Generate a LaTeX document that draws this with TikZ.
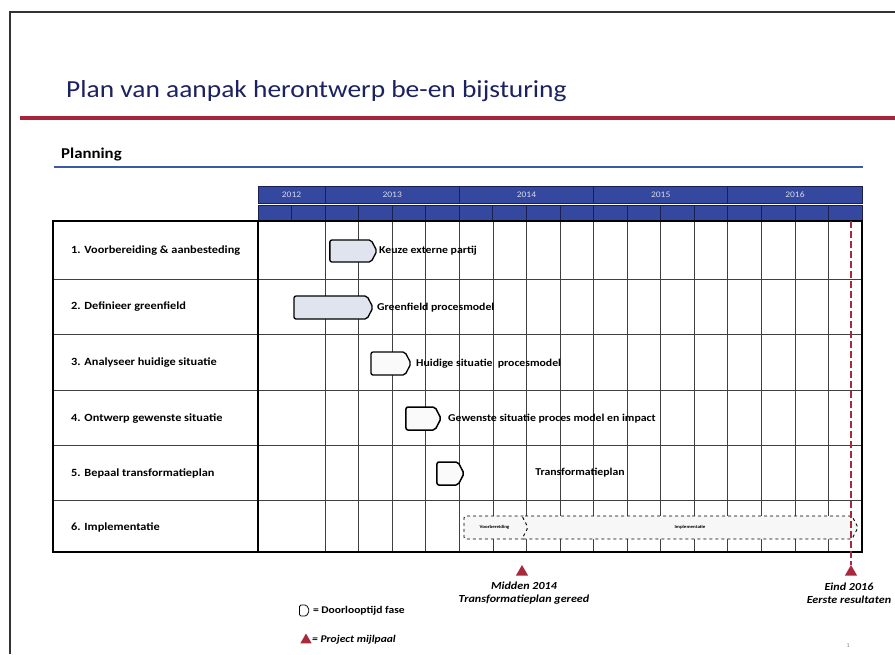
\documentclass[tikz,border=0pt]{standalone}
\usepackage{fontspec}
\setmainfont{Carlito}[FakeStretch=1.12]
\usetikzlibrary{shapes.symbols,shapes.geometric,positioning}

\definecolor{titleblue}{HTML}{1C2160}
\definecolor{slidered}{HTML}{A8243A}
\definecolor{lineblue}{HTML}{3C5AA8}
\definecolor{headblue}{HTML}{3548A0}
\definecolor{headedge}{HTML}{1B1F50}
\definecolor{phasefill}{HTML}{DFE4EE}
\definecolor{milered}{HTML}{A8283C}

\tikzset{
  gridline/.style={black!75, line width=0.7pt},
  tableline/.style={black, line width=1.1pt},
  yearcell/.style={draw=headedge, fill=headblue, line width=0.9pt, minimum height=17pt, inner sep=0pt,
    text=white!80!headblue, font=\fontsize{8.5}{9}\selectfont},
  monthcell/.style={draw=headedge, fill=headblue, line width=0.9pt, minimum width=33.56pt,
    minimum height=15pt, inner sep=0pt},
  rowlabel/.style={anchor=west, inner sep=0pt, font=\fontsize{11}{13}\selectfont\bfseries},
  phase/.style={shape=signal, signal to=east, signal pointer angle=125, draw=black, line width=1.3pt,
    rounded corners=2pt, inner sep=0pt, minimum height=23pt},
  phaselabel/.style={anchor=west, inner sep=0pt, font=\fontsize{10.5}{12}\selectfont\bfseries},
  implphase/.style={phase, dashed, line width=0.9pt, fill=black!3, font=\fontsize{4.5}{5}\selectfont\bfseries},
  milestone/.style={regular polygon, regular polygon sides=3, fill=milered, minimum size=14pt, inner sep=0pt},
  miletext/.style={align=center, inner sep=0pt, font=\fontsize{10.8}{13.5}\selectfont\bfseries\itshape},
  legendtext/.style={inner sep=0pt, font=\fontsize{10.3}{12}\selectfont\bfseries},
}

\begin{document}
\begin{tikzpicture}[x=1pt, y=-1pt]
        \useasboundingbox (0,0) rectangle (895,654);
        %% slide frame and title
        \draw[line width=1.2pt, black!80] (10,654) -- (10,12) -- (900,12);
        \node[anchor=base west, inner sep=0pt, text=titleblue, font=\fontsize{24.5}{28}\selectfont] (title) at (66,97)
            {Plan van aanpak herontwerp be-en bijsturing};
        \draw[slidered, line width=3.5pt] (20,118) -- (895,118);
        \node[anchor=base west, inner sep=0pt, font=\fontsize{15}{17}\selectfont\bfseries] (planning) at (61,158) {Planning};
        \draw[lineblue, line width=2pt] (54,167) -- (863,167);

        %% header with years and quarters
        \foreach \yr/\a/\n in {2012/0/2,2013/2/4,2014/6/4,2015/10/4,2016/14/4}
            \node[yearcell, minimum width=\n*33.56pt] (y\yr) at ({258+33.56*(\a+\n/2)},194.5) {\yr};
        \foreach \i in {0,...,17}
            \node[monthcell] (q\i) at ({258+33.56*(\i+0.5)},212.5) {};

        %% table grid
        \foreach \i in {2,...,17}
            \draw[gridline] ({258+33.56*\i},221) -- ({258+33.56*\i},552);
        \foreach \yy in {279,334,390,445,500}
            \draw[gridline] (53,\yy) -- (862,\yy);
        \draw[tableline] (53,221) rectangle (862,552);
        \draw[tableline] (258,221) -- (258,552);

        %% activities
        \node[rowlabel] (r1) at (71,251) {1. Voorbereiding \& aanbesteding};
        \node[rowlabel] (r2) at (71,307) {2. Definieer greenfield};
        \node[rowlabel] (r3) at (71,363) {3. Analyseer huidige situatie};
        \node[rowlabel] (r4) at (71,418.5) {4. Ontwerp gewenste situatie};
        \node[rowlabel] (r5) at (71,473) {5. Bepaal transformatieplan};
        \node[rowlabel] (r6) at (71,527) {6. Implementatie};

        %% phases
        \node[phase, fill=phasefill, minimum width=47pt, minimum height=22pt] (p1) at (350.5,251) {};
        \node[phaselabel] (l1) at (379,251) {Keuze externe partij};
        \node[phase, fill=phasefill, minimum width=79pt] (p2) at (330.5,307.5) {};
        \node[phaselabel] (l2) at (377,307.5) {Greenfield procesmodel};
        \node[phase, fill=black!2, minimum width=40pt] (p3) at (388,363.5) {};
        \node[phaselabel] (l3) at (416,364) {Huidige situatie\ \ procesmodel};
        \node[phase, fill=black!2, line width=1.5pt, minimum width=35pt] (p4) at (420.5,418.5) {};
        \node[phaselabel] (l4) at (448,419) {Gewenste situatie proces model en impact};
        \node[phase, fill=black!2, line width=1.5pt, minimum width=27pt] (p5) at (447.5,473.5) {};
        \node[phaselabel, anchor=center] (l5) at (580,473) {Transformatieplan};
        \node[implphase, minimum width=67pt] (p6a) at (494.5,527.5) {Voorbereiding};
        \node[implphase, signal from=west, minimum width=336pt] (p6b) at (690,527.5) {Implementatie};

        %% milestones
        \node[milestone] (m1) at (522,572) {};
        \node[milestone] (m2) at (851,572) {};
        \coordinate (endtop) at (851,221);
        \draw[milered, line width=1.6pt, dash pattern=on 7pt off 3pt] (endtop) -- (m2.north);
        \node[miletext] (m1txt) at (524,593) {Midden 2014\\Transformatieplan gereed};
        \node[miletext] (m2txt) at (849,593) {Eind 2016\\Eerste resultaten};

        %% legend
        \node[phase, line width=0.8pt, rounded corners=1.5pt, minimum width=10pt, minimum height=11pt] (legphase) at (303,610.5) {};
        \node[legendtext, right=3pt of legphase] (legphasetxt) {= Doorlooptijd fase};
        \node[milestone, minimum size=13pt] (legmile) at (306,640) {};
        \node[legendtext, right=2pt of legmile, font=\fontsize{10.3}{12}\selectfont\bfseries\itshape] (legmiletxt) {= Project mijlpaal};
        \node[text=black!45, font=\fontsize{6}{7}\selectfont] (pagenr) at (848,646) {1};
    \end{tikzpicture}
\end{document}
